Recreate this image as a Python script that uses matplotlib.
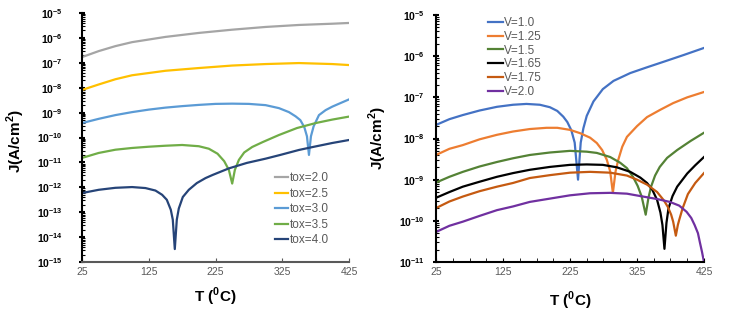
import numpy as np
import matplotlib
matplotlib.use('Agg')
import matplotlib.pyplot as plt
from matplotlib.ticker import FixedLocator, FuncFormatter, LogLocator, NullFormatter

plt.rcParams['font.family'] = ['Liberation Sans', 'DejaVu Sans']
plt.rcParams['mathtext.fontset'] = 'custom'
plt.rcParams['mathtext.rm'] = 'Liberation Sans'
plt.rcParams['mathtext.bf'] = 'Liberation Sans:bold'

# Panel izquierdo: J vs T para distintos tox (log10 de J)
T_tox20 = [25, 50, 75, 100, 150, 200, 250, 300, 350, 400, 425]
logJ_tox20 = [-6.77, -6.53, -6.33, -6.17, -5.96, -5.8, -5.67, -5.56, -5.48, -5.43, -5.4]

T_tox25 = [25, 50, 75, 100, 150, 200, 250, 300, 350, 400, 425]
logJ_tox25 = [-8.09, -7.87, -7.66, -7.5, -7.32, -7.21, -7.11, -7.05, -7.01, -7.05, -7.09]

T_tox30 = [25, 50, 75, 100, 125, 150, 175, 200, 225, 250, 275, 300, 320, 335, 345,
           352, 358, 362, 365, 368, 372, 380, 390, 400, 412, 425]
logJ_tox30 = [-9.42, -9.25, -9.1, -8.98, -8.88, -8.8, -8.74, -8.69, -8.65, -8.64, -8.65,
              -8.7, -8.82, -8.98, -9.15, -9.3, -9.58, -9.95, -10.7, -9.95, -9.55, -9.1,
              -8.9, -8.76, -8.62, -8.47]

T_tox35 = [25, 50, 75, 100, 125, 150, 175, 200, 215, 228, 238, 245, 250, 254, 260,
           268, 280, 296, 320, 347, 375, 400, 425]
logJ_tox35 = [-10.82, -10.62, -10.49, -10.42, -10.37, -10.33, -10.3, -10.35, -10.45,
              -10.65, -10.95, -11.3, -11.85, -11.3, -10.9, -10.6, -10.38, -10.18, -9.9,
              -9.62, -9.42, -9.28, -9.16]

T_tox40 = [25, 50, 75, 100, 120, 135, 145, 152, 158, 161, 164, 167, 170, 176, 185,
           197, 210, 221, 245, 272, 300, 322, 350, 371, 400, 425]
logJ_tox40 = [-12.23, -12.1, -12.02, -11.99, -12.03, -12.13, -12.3, -12.5, -12.9, -13.3,
              -14.48, -13.3, -12.85, -12.39, -12.1, -11.83, -11.63, -11.5, -11.24, -11.02,
              -10.85, -10.7, -10.5, -10.38, -10.22, -10.1]

# Panel derecho: J vs T para distintos V
T_v100 = [25, 45, 65, 90, 116, 140, 160, 180, 195, 206, 215, 221, 227, 232, 237, 241,
          245, 250, 260, 274, 290, 315, 340, 364, 395, 425]
logJ_v100 = [-7.67, -7.53, -7.43, -7.32, -7.23, -7.18, -7.16, -7.18, -7.24, -7.33, -7.47,
             -7.6, -7.8, -8.1, -9.0, -8.1, -7.75, -7.45, -7.1, -6.8, -6.6, -6.41, -6.27,
             -6.14, -5.97, -5.8]

T_v125 = [25, 45, 65, 90, 116, 140, 165, 190, 206, 225, 240, 255, 265, 273, 280, 285,
          289, 293, 297, 303, 310, 325, 340, 360, 379, 400, 425]
logJ_v125 = [-8.4, -8.25, -8.16, -8.02, -7.91, -7.83, -7.77, -7.74, -7.74, -7.79, -7.87,
             -7.98, -8.11, -8.28, -8.52, -8.8, -9.32, -8.8, -8.52, -8.2, -7.96, -7.7,
             -7.48, -7.3, -7.14, -7.0, -6.87]

T_v150 = [25, 45, 65, 90, 116, 140, 165, 195, 225, 250, 265, 285, 300, 310, 319, 326,
          332, 338, 342, 346, 352, 359, 370, 385, 405, 425]
logJ_v150 = [-9.07, -8.93, -8.81, -8.68, -8.57, -8.48, -8.4, -8.34, -8.3, -8.32, -8.35,
             -8.45, -8.59, -8.72, -8.93, -9.15, -9.41, -9.85, -9.45, -9.17, -8.9, -8.69,
             -8.47, -8.28, -8.06, -7.86]

T_v165 = [25, 45, 65, 90, 116, 140, 165, 195, 225, 250, 274, 295, 315, 330, 340, 348,
          355, 360, 363, 366, 369, 372, 378, 385, 400, 412, 425]
logJ_v165 = [-9.44, -9.3, -9.17, -9.05, -8.93, -8.84, -8.76, -8.69, -8.64, -8.63, -8.64,
             -8.7, -8.81, -8.95, -9.08, -9.25, -9.49, -9.8, -10.1, -10.68, -10.05, -9.7,
             -9.4, -9.17, -8.85, -8.65, -8.45]

T_v175 = [25, 45, 65, 90, 116, 140, 165, 195, 225, 255, 285, 310, 325, 340, 355, 365,
          371, 376, 379, 383, 386, 388, 393, 401, 412, 425]
logJ_v175 = [-9.69, -9.53, -9.41, -9.28, -9.17, -9.08, -8.96, -8.89, -8.83, -8.81, -8.83,
             -8.9, -9.0, -9.12, -9.3, -9.5, -9.66, -9.85, -10.02, -10.36, -10.1, -9.98,
             -9.7, -9.35, -9.08, -8.84]

T_v200 = [25, 45, 65, 90, 116, 140, 165, 195, 225, 255, 285, 310, 334, 355, 374, 388,
          399, 406, 411, 416, 419, 422, 425]
logJ_v200 = [-10.27, -10.12, -10.02, -9.88, -9.74, -9.65, -9.54, -9.46, -9.38, -9.33,
             -9.32, -9.34, -9.41, -9.47, -9.54, -9.63, -9.78, -9.93, -10.1, -10.3, -10.53,
             -10.75, -11.0]

left_series = [
    (T_tox20, logJ_tox20, 'tox=2.0', '#A5A5A5'),
    (T_tox25, logJ_tox25, 'tox=2.5', '#FFC000'),
    (T_tox30, logJ_tox30, 'tox=3.0', '#5B9BD5'),
    (T_tox35, logJ_tox35, 'tox=3.5', '#70AD47'),
    (T_tox40, logJ_tox40, 'tox=4.0', '#264478'),
]
right_series = [
    (T_v100, logJ_v100, 'V=1.0', '#4472C4'),
    (T_v125, logJ_v125, 'V=1.25', '#ED7D31'),
    (T_v150, logJ_v150, 'V=1.5', '#548235'),
    (T_v165, logJ_v165, 'V=1.65', '#000000'),
    (T_v175, logJ_v175, 'V=1.75', '#C55A11'),
    (T_v200, logJ_v200, 'V=2.0', '#7030A0'),
]

x_ticks = [25, 125, 225, 325, 425]


def exp_label(v, pos):
    return r'$\mathbf{10^{%d}}$' % int(round(np.log10(v)))


fig = plt.figure(figsize=(7.47, 3.22), dpi=100)
ax1 = fig.add_axes([0.1098, 0.1863, 0.3574, 0.7733])
ax2 = fig.add_axes([0.5837, 0.1863, 0.3587, 0.7671])

for ax, series, ylim in [(ax1, left_series, (1e-15, 1e-5)), (ax2, right_series, (1e-11, 1e-5))]:
    for T, logJ, lab, col in series:
        ax.plot(T, 10 ** np.array(logJ), color=col, lw=1.6, label=lab)
    ax.set_yscale('log')
    ax.set_xlim(25, 425)
    ax.set_ylim(*ylim)
    ax.spines['top'].set_visible(False)
    ax.spines['right'].set_visible(False)
    ax.yaxis.set_major_locator(LogLocator(base=10, numticks=20))
    ax.yaxis.set_minor_locator(LogLocator(base=10, subs=np.arange(2, 10), numticks=20))
    ax.yaxis.set_major_formatter(FuncFormatter(exp_label))
    ax.yaxis.set_minor_formatter(NullFormatter())
    ax.xaxis.set_major_locator(FixedLocator(x_ticks))
    ax.tick_params(axis='x', labelsize=7.5, labelcolor='#595959', direction='in', length=3)
    ax.tick_params(axis='y', which='major', labelsize=7.5, direction='inout', length=4, width=1.5)
    ax.tick_params(axis='y', which='minor', direction='in', length=2, width=0.8)
    ax.set_ylabel('J(A/cm$^{\\mathbf{2}}$)', fontsize=11, fontweight='bold')
    ax.spines['left'].set_linewidth(1.5)
    ax.spines['bottom'].set_linewidth(1.5)

ax1.set_xlabel('T ($^{\\mathbf{0}}$C)', fontsize=11, fontweight='bold', labelpad=6)
ax2.set_xlabel('T ($^{\\mathbf{0}}$C)', fontsize=11, fontweight='bold', labelpad=9)

ax1.spines['bottom'].set_color('#595959')
ax1.tick_params(axis='x', colors='#595959', labelcolor='#595959')
ax1.tick_params(axis='y', pad=12)
ax1.yaxis.set_label_coords(-0.205, 0.486)

ax2.xaxis.set_minor_locator(FixedLocator(np.arange(25, 426, 25)))
ax2.tick_params(axis='x', which='minor', direction='in', length=3)
ax2.tick_params(axis='y', pad=6)
ax2.yaxis.set_label_coords(-0.175, 0.5)

ax1.legend(loc='upper left', bbox_to_anchor=(0.723, 0.361), frameon=False, fontsize=8.5,
           handlelength=1.1, handletextpad=0.15, labelspacing=0.3, borderpad=0,
           borderaxespad=0, labelcolor='#595959')
ax2.legend(loc='upper left', bbox_to_anchor=(0.194, 0.992), frameon=False, fontsize=8.5,
           handlelength=1.27, handletextpad=0.1, labelspacing=0.15, borderpad=0,
           borderaxespad=0, labelcolor='#595959')

fig.savefig('out.png', dpi=100)
